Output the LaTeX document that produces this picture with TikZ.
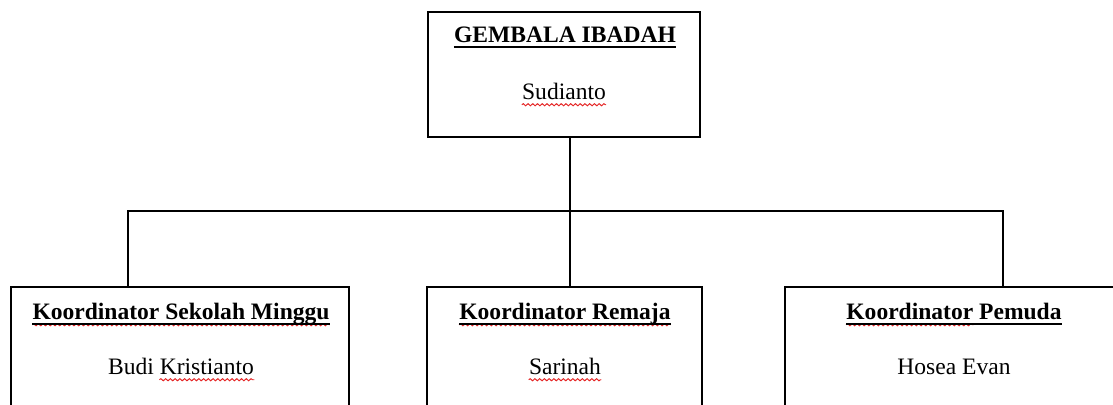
\documentclass[tikz,border=0pt]{standalone}
\usepackage{fontspec}
\setmainfont{Liberation Serif}
\usepackage{xcolor}
\usetikzlibrary{positioning, decorations.pathmorphing}
\definecolor{spellred}{RGB}{228,36,36}

\tikzset{
  orgbox/.style={draw, line width=1.1pt, inner sep=0pt},
  title/.style={font=\fontsize{13.4}{15}\selectfont\bfseries, anchor=base, inner sep=0pt},
  person/.style={font=\fontsize{13.4}{15}\selectfont, anchor=base, inner sep=0pt},
  link/.style={line width=1.1pt},
  uline/.style={line width=1.05pt},
  spell/.style={spellred, line width=0.55pt, decorate,
    decoration={snake, amplitude=0.6pt, segment length=2.7pt}}
}

\begin{document}
\begin{tikzpicture}[x=0.02cm, y=-0.02cm]
  \useasboundingbox (0,0) rectangle (1113,405);
  \clip (0,0) rectangle (1113,405);

  % boxes
  \node[orgbox, minimum width=5.44cm, minimum height=2.5cm] (gembala) at (564,74.5) {};
  \node[orgbox, minimum width=6.76cm, minimum height=3cm] (sekolah) at (180,362) {};
  \node[orgbox, minimum width=5.5cm, minimum height=3cm] (remaja) at (564.5,362) {};
  \node[orgbox, minimum width=6.76cm, minimum height=3cm] (pemuda) at (954,362) {};

  % texts
  \node[title] (gembalaT) at (565,43) {GEMBALA IBADAH};
  \node[person] (gembalaN) at (564,100) {Sudianto};
  \node[title] (sekolahT) at (181,320) {Koordinator Sekolah Minggu};
  \node[person] (sekolahN) at (181,375) {Budi Kristianto};
  \node[person, anchor=base east] (sekolahW) at (sekolahN.base east) {\phantom{Kristianto}};
  \node[title] (remajaT) at (565,320) {Koordinator Remaja};
  \node[person] (remajaN) at (565,375) {Sarinah};
  \node[title] (pemudaT) at (954,320) {Koordinator Pemuda};
  \node[title, anchor=base west] (pemudaW) at (pemudaT.base west) {\phantom{Koordinator}};
  \node[person] (pemudaN) at (954,375) {Hosea Evan};

  % spell marks and underlines
  \foreach \w in {gembalaN, sekolahT, sekolahW, remajaT, remajaN, pemudaW}
    \draw[spell] ([yshift=-2.7pt]\w.base west) -- ([yshift=-2.7pt]\w.base east);
  \foreach \t in {gembalaT, sekolahT, remajaT, pemudaT}
    \draw[uline] ([yshift=-2.1pt]\t.base west) -- ([yshift=-2.1pt]\t.base east);

  % connectors
  \coordinate (jL) at (128,211);
  \coordinate (jM) at (570,211);
  \coordinate (jR) at (1003,211);
  \draw[link] (jM |- gembala.south) -- (jM |- remaja.north);
  \draw[link] (jL |- sekolah.north) -- (jL) -- (jR) -- (jR |- pemuda.north);
\end{tikzpicture}
\end{document}
